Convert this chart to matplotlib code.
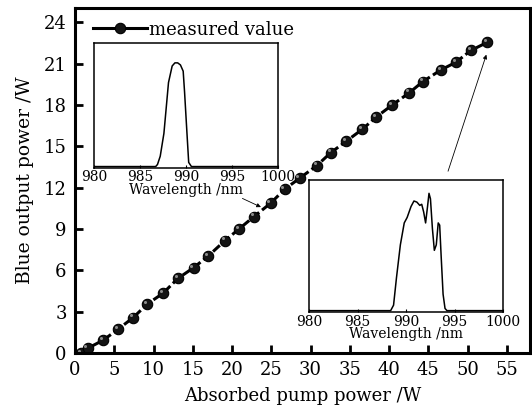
import numpy as np
import matplotlib
matplotlib.use("Agg")
import matplotlib.pyplot as plt
import matplotlib.transforms as mtransforms
from matplotlib.lines import Line2D

plt.rcParams['font.family'] = ['DejaVu Serif']
plt.rcParams['mathtext.fontset'] = 'dejavuserif'

# measured blue output vs absorbed pump power
pump = [0.8, 1.6, 3.6, 5.5, 7.4, 9.2, 11.2, 13.1, 15.1, 17.0, 19.1, 20.9,
        22.8, 24.9, 26.7, 28.6, 30.8, 32.6, 34.5, 36.6, 38.3, 40.4, 42.6,
        44.3, 46.6, 48.5, 50.4, 52.5]
blue = [0.0, 0.32, 0.92, 1.72, 2.55, 3.54, 4.32, 5.4, 6.18, 7.05, 8.15, 9.0,
        9.9, 10.86, 11.88, 12.68, 13.6, 14.55, 15.35, 16.24, 17.1, 18.0, 18.9,
        19.7, 20.55, 21.1, 21.96, 22.55]

# spectrum at ~11 W (inset 1), normalised
wl1 = [980, 986.7, 986.9, 987.2, 987.6, 988.1, 988.5, 988.8, 989.1, 989.4,
       989.7, 989.85, 990.1, 990.3, 990.6, 1000]
sp1 = [0.0, 0.0, 0.02, 0.1, 0.32, 0.81, 0.97, 1.0, 1.0, 0.98, 0.92, 0.72,
       0.34, 0.04, 0.0, 0.0]

# spectrum at ~22.5 W (inset 2), normalised
wl2 = [980, 988.4, 988.7, 989.0, 989.4, 989.8, 990.1, 990.5, 990.8, 991.1,
       991.4, 991.6, 991.8, 992.0, 992.2, 992.35, 992.5, 992.7, 992.9, 993.1,
       993.3, 993.45, 993.6, 993.8, 994.0, 994.2, 1000]
sp2 = [0.0, 0.0, 0.05, 0.3, 0.6, 0.8, 0.85, 0.95, 1.0, 0.99, 0.96, 0.97,
       0.9, 0.8, 0.95, 1.07, 1.02, 0.75, 0.55, 0.6, 0.8, 0.78, 0.5, 0.15,
       0.02, 0.0, 0.0]

fig = plt.figure(figsize=(5.32, 4.19), dpi=100)
ax = fig.add_axes([0.141, 0.158, 0.856, 0.823])

mk = dict(marker='o', markersize=7.5, markerfacecolor='#141414',
          markeredgecolor='black', markeredgewidth=0.8)
ax.plot(pump, blue, color='black', linestyle=(0, (3, 1.2)), linewidth=2.2, **mk)
# small highlight on each sphere, shifted up-left
shift = mtransforms.ScaledTranslation(-1.6 / 72, 1.6 / 72, fig.dpi_scale_trans)
ax.plot(pump, blue, linestyle='none', marker='o', markersize=2.2,
        markerfacecolor='#8c8c8c', markeredgecolor='none',
        transform=ax.transData + shift)

ax.set_xlim(0, 58)
ax.set_ylim(0, 25.05)
ax.set_xticks(np.arange(0, 56, 5))
ax.set_yticks(np.arange(0, 25, 3))
ax.tick_params(direction='in', length=6, width=2, labelsize=13, pad=6)
for s in ax.spines.values():
    s.set_linewidth(2.2)
ax.set_xlabel('Absorbed pump power /W', fontsize=13, labelpad=6)
ax.set_ylabel('Blue output power /W', fontsize=13.5, labelpad=7)

handle = Line2D([], [], color='black', linewidth=2.2, **mk)
ax.legend([handle], ['measured value'], loc='upper left', frameon=False,
          fontsize=13, handlelength=3.0, handletextpad=0.1,
          borderaxespad=0.2, bbox_to_anchor=(0.015, 0.995))

def inset(rect, wl, sp):
    a = fig.add_axes(rect)
    a.plot(wl, sp, color='black', linewidth=1.1)
    a.set_xlim(980, 1000)
    a.set_ylim(-0.01, 1.19)
    a.set_xticks([980, 985, 990, 995, 1000])
    a.set_yticks([])
    a.tick_params(direction='in', length=2, width=0.8, labelsize=10, pad=2)
    for s in a.spines.values():
        s.set_linewidth(1.1)
    a.set_xlabel('Wavelength /nm', fontsize=10, labelpad=-1)
    return a

inset([0.177, 0.600, 0.345, 0.297], wl1, sp1)
inset([0.581, 0.256, 0.365, 0.314], wl2, sp2)

# arrows from the insets to the data points
ax.annotate('', xy=(24.0, 10.5), xytext=(21.0, 11.3),
            arrowprops=dict(arrowstyle='-|>', color='black', lw=0.6,
                            mutation_scale=6))
ax.annotate('', xy=(52.5, 21.85), xytext=(47.4, 13.0),
            arrowprops=dict(arrowstyle='-|>', color='black', lw=0.6,
                            mutation_scale=6))

fig.savefig('out.png', dpi=100)
